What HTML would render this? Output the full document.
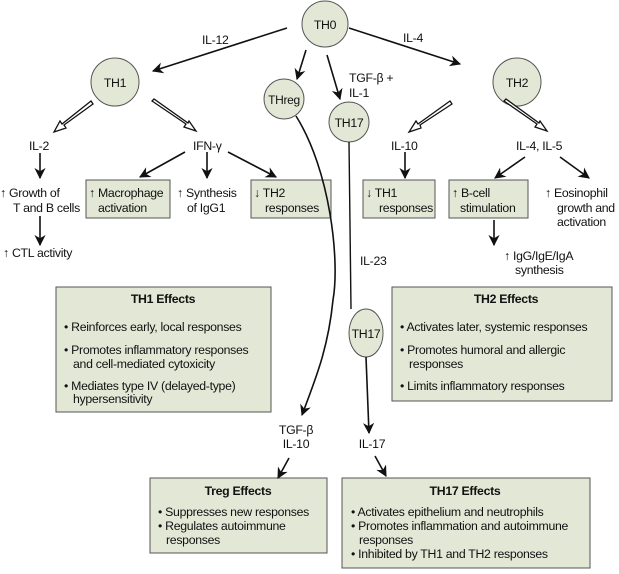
<!DOCTYPE html>
<html><head><meta charset="utf-8"><style>
html,body{margin:0;padding:0;background:#fff}
svg text{font-family:"Liberation Sans",Arial,sans-serif;font-size:12.3px;fill:#111;letter-spacing:-0.3px}
.b{font-weight:bold}
</style></head><body>
<svg width="619" height="569" viewBox="0 0 619 569" xmlns="http://www.w3.org/2000/svg">
<defs>
<marker id="a" viewBox="0 0 10 10" refX="9" refY="5" markerWidth="7" markerHeight="7" orient="auto"><path d="M0,0 L10,5 L0,10 L3,5 z" fill="#111"/></marker>
</defs>
<g fill="#e3e8d6" stroke="#555" stroke-width="1">
<circle cx="325" cy="24" r="23"/>
<circle cx="115" cy="82" r="24"/>
<circle cx="517" cy="82" r="24"/>
<circle cx="284" cy="99" r="20"/>
<circle cx="349" cy="122" r="20"/>
<ellipse cx="366" cy="333" rx="17" ry="24"/>
<rect x="86" y="180" width="84" height="38"/>
<rect x="251" y="180" width="80" height="38"/>
<rect x="363" y="180" width="72" height="38"/>
<rect x="449" y="180" width="79" height="38"/>
<rect x="56" y="287" width="215" height="125"/>
<rect x="392" y="287" width="220" height="114"/>
<rect x="150" y="478" width="177" height="75"/>
<rect x="342" y="478" width="248" height="90"/>
</g>
<g stroke="#111" stroke-width="1.6" fill="none" marker-end="url(#a)">
<line x1="287" y1="28" x2="153" y2="71"/>
<line x1="349" y1="28" x2="460" y2="64"/>
<line x1="306" y1="50" x2="297" y2="79"/>
<line x1="327" y1="55" x2="340" y2="99"/>
<line x1="40" y1="153" x2="40" y2="178"/>
<line x1="40" y1="216" x2="40" y2="245"/>
<line x1="185" y1="152" x2="140" y2="177"/>
<line x1="207" y1="152" x2="207" y2="178"/>
<line x1="228" y1="152" x2="276" y2="177"/>
<line x1="405" y1="152" x2="405" y2="178"/>
<line x1="525" y1="157" x2="495" y2="178"/>
<line x1="560" y1="157" x2="589" y2="178"/>
<line x1="494" y1="220" x2="494" y2="245"/>
<path d="M296,116 C330,170 340,260 333,300 C328,350 315,380 302,415"/>
<line x1="366" y1="357" x2="369" y2="433"/>
<line x1="289" y1="458" x2="278" y2="478"/>
<line x1="375" y1="456" x2="386" y2="476"/>
</g>
<line x1="349" y1="142" x2="351" y2="309" stroke="#111" stroke-width="1.4"/>
<g stroke="#111" stroke-width="1.3" fill="#fff">
<path d="M91,101 L62,124 L60,121 L54,132 L66,128 L64,125 L93,104 z"/>
<path d="M152,101 L186,124 L184,127 L196,131 L189,121 L188,123 L154,99 z"/>
<path d="M450,101 L418,124 L416,121 L409,132 L421,128 L420,125 L452,104 z"/>
<path d="M504,101 L537,124 L535,127 L547,131 L540,121 L539,123 L506,99 z"/>
</g>
<text x="325" y="29" text-anchor="middle">TH0</text>
<text x="115" y="87" text-anchor="middle">TH1</text>
<text x="517" y="87" text-anchor="middle">TH2</text>
<text x="284" y="104" text-anchor="middle" style="font-size:12px">THreg</text>
<text x="349" y="127" text-anchor="middle">TH17</text>
<text x="366" y="338" text-anchor="middle">TH17</text>
<text x="202" y="44">IL-12</text>
<text x="403" y="42">IL-4</text>
<text x="349" y="82">TGF-β +</text>
<text x="349" y="97">IL-1</text>
<text x="29" y="150">IL-2</text>
<text x="193" y="150">IFN-γ</text>
<text x="391" y="150">IL-10</text>
<text x="516" y="150">IL-4, IL-5</text>
<text x="0" y="197">↑ Growth of</text>
<text x="13" y="212">T and B cells</text>
<text x="3" y="257">↑ CTL activity</text>
<text x="89" y="197">↑ Macrophage</text>
<text x="98" y="212">activation</text>
<text x="177" y="197">↑ Synthesis</text>
<text x="187" y="212">of IgG1</text>
<text x="254" y="197">↓ TH2</text>
<text x="265" y="212">responses</text>
<text x="366" y="197">↓ TH1</text>
<text x="379" y="212">responses</text>
<text x="452" y="197">↑ B-cell</text>
<text x="460" y="212">stimulation</text>
<text x="545" y="197">↑ Eosinophil</text>
<text x="557" y="212">growth and</text>
<text x="557" y="226">activation</text>
<text x="504" y="260">↑ IgG/IgE/IgA</text>
<text x="515" y="274">synthesis</text>
<text x="360" y="265">IL-23</text>
<text x="163" y="303" text-anchor="middle" class="b">TH1 Effects</text>
<text x="64" y="331">• Reinforces early, local responses</text>
<text x="64" y="354">• Promotes inflammatory responses</text>
<text x="73" y="368">and cell-mediated cytoxicity</text>
<text x="64" y="390">• Mediates type IV (delayed-type)</text>
<text x="73" y="403">hypersensitivity</text>
<text x="506" y="303" text-anchor="middle" class="b">TH2 Effects</text>
<text x="400" y="331">• Activates later, systemic responses</text>
<text x="400" y="354">• Promotes humoral and allergic</text>
<text x="409" y="368">responses</text>
<text x="400" y="390">• Limits inflammatory responses</text>
<text x="296" y="434" text-anchor="middle">TGF-β</text>
<text x="296" y="448" text-anchor="middle">IL-10</text>
<text x="372" y="448" text-anchor="middle">IL-17</text>
<text x="238" y="495" text-anchor="middle" class="b">Treg Effects</text>
<text x="158" y="516">• Suppresses new responses</text>
<text x="158" y="530">• Regulates autoimmune</text>
<text x="166" y="544">responses</text>
<text x="465" y="495" text-anchor="middle" class="b">TH17 Effects</text>
<text x="351" y="516">• Activates epithelium and neutrophils</text>
<text x="351" y="530">• Promotes inflammation and autoimmune</text>
<text x="359" y="544">responses</text>
<text x="351" y="558">• Inhibited by TH1 and TH2 responses</text>
</svg>
</body></html>
